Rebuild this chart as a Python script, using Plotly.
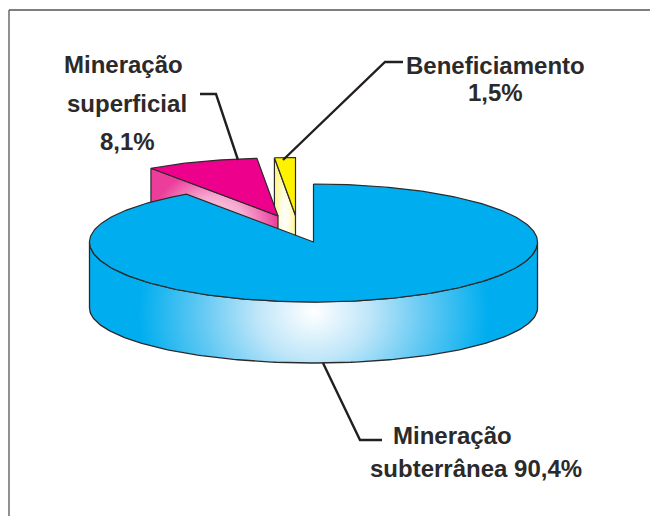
import numpy as np
import plotly.graph_objects as go

# Data
categories = ["Mineração subterrânea", "Mineração superficial", "Beneficiamento"]
shares = [90.4, 8.1, 1.5]
label_lines = [["Mineração", "subterrânea 90,4%"], ["Mineração", "superficial", "8,1%"], ["Beneficiamento", "1,5%"]]

# Drawing constants
W, H = 650, 516
CX, CY, RX = 313.5, 242, 224
RY_BACK, RY_FRONT = 58, 60
DEPTH, LOW_RY = 66, 55
EXPLODE = {1: (-35.5, -26), 2: (-18, -26.5)}
INK = "#2b2a2b"
BLUE, PINK, YELLOW = "#00aeef", "#ec008c", "#fff200"

edges = np.concatenate([[0], np.cumsum(shares)]) * 3.6
ang = np.radians(edges)

def ell(t, cy=CY, ry=None, dx=0, dy=0):
    c = np.cos(t)
    r = ry if ry is not None else np.where(c > 0, RY_BACK, RY_FRONT)
    return CX + dx + RX * np.sin(t), cy + dy - r * c

fig = go.Figure()

def poly(x, y, color=None, grad=None, outline=True, width=1.2):
    x = list(x); y = list(y)
    kw = dict(x=x + [x[0]], y=y + [y[0]], mode="lines", fill="toself", hoverinfo="skip", showlegend=False)
    kw["line"] = dict(color=INK, width=width) if outline else dict(width=0, color="rgba(0,0,0,0)")
    if grad:
        kw["fillgradient"] = dict(type="radial", colorscale=grad)
    else:
        kw["fillcolor"] = color
    fig.add_trace(go.Scatter(**kw))

# Beneficiamento wedge (yellow)
dx, dy = EXPLODE[2]
t = np.linspace(ang[2], ang[3], 12)
ax, ay = CX + dx, CY + dy
ex, ey = ell(t[0], dx=dx, dy=dy)
poly([ex, ax, ax, ex], [ey, ay, ay + DEPTH, ey + DEPTH],
     grad=[[0, "#ffffff"], [0.35, "#fffde8"], [1, "#fff68f"]])
tx, ty = ell(t, dx=dx, dy=dy)
poly(list(tx) + [ax], list(ty) + [ay], YELLOW)

# Mineração superficial wedge (pink)
dx, dy = EXPLODE[1]
t = np.linspace(ang[1], ang[2], 30)
ax, ay = CX + dx, CY + dy
ex, ey = ell(t[0], dx=dx, dy=dy)
poly([ex, ax, ax, ex], [ey, ay, ay + DEPTH, ey + DEPTH],
     grad=[[0, "#fbe3ef"], [0.5, "#f6a8cf"], [1, "#ec3d9b"]])
tx, ty = ell(t, dx=dx, dy=dy)
poly(list(tx) + [ax], list(ty) + [ay], PINK)

# Mineração subterrânea: rim with gradient
tb = np.linspace(np.pi / 2, 3 * np.pi / 2, 160)
ux, uy = ell(tb)
lx, ly = ell(tb, cy=CY + DEPTH, ry=LOW_RY)
rim_x = list(ux) + list(lx[::-1])
rim_y = list(uy) + list(ly[::-1])
# zero-area companions widen the gradient box so its centre and reach match the picture
rim_fx = rim_x + [rim_x[0], None, CX, CX, None, CX, CX]
rim_fy = rim_y + [rim_y[0], None, 122, 122, None, 502, 502]
fig.add_trace(go.Scatter(x=rim_fx, y=rim_fy, mode="lines", fill="toself", hoverinfo="skip", showlegend=False,
                         line=dict(width=0, color="rgba(0,0,0,0)"), connectgaps=False,
                         fillgradient=dict(type="radial", colorscale=[[0, "#ffffff"], [0.25, "#bfe6f9"], [0.5, "#63c9f3"], [0.78, BLUE], [1, BLUE]])))
fig.add_trace(go.Scatter(x=rim_x + [rim_x[0]], y=rim_y + [rim_y[0]], mode="lines", hoverinfo="skip", showlegend=False,
                         line=dict(color=INK, width=1.3)))

# Top face
t = np.linspace(ang[0], ang[1], 300)
tx, ty = ell(t)
poly(list(tx) + [CX], list(ty) + [CY], BLUE, width=1.2)

# Leaders
leaders = [([323, 360, 382], [363, 440, 440]),
           ([200, 216, 238], [94, 94, 160]),
           ([403, 385, 283], [62, 62, 160])]
for lxs, lys in leaders:
    fig.add_trace(go.Scatter(x=lxs, y=lys, mode="lines", hoverinfo="skip", showlegend=False,
                             line=dict(color="#231f20", width=2.4)))

FONT = dict(family="Liberation Sans", size=24, color="#2b2a2b", weight="bold")
def label(text, x, y):
    fig.add_annotation(x=x, y=y, text=f"<b>{text}</b>", showarrow=False, font=FONT, xanchor="center", yanchor="middle")

label(label_lines[1][0], 123, 64)
label(label_lines[1][1], 127, 103)
label(label_lines[1][2], 127, 141)
label(label_lines[2][0], 495, 65)
label(label_lines[2][1], 495, 92)
label(label_lines[0][0], 452, 435)
label(label_lines[0][1], 476, 468)

# Frame
fig.add_shape(type="line", x0=9, x1=9, y0=10, y1=H, line=dict(color="#555", width=1.3))
fig.add_shape(type="line", x0=9, x1=W, y0=10, y1=10, line=dict(color="#555", width=1.3))

fig.update_layout(width=W, height=H, margin=dict(l=0, r=0, t=0, b=0), paper_bgcolor="white", plot_bgcolor="white",
                  xaxis=dict(range=[0, W], visible=False, fixedrange=True),
                  yaxis=dict(range=[H, 0], visible=False, fixedrange=True), showlegend=False)
fig.write_html("out.html", config={"displayModeBar": False},
               post_script="document.body.style.margin='0';document.body.style.overflow='hidden';")
